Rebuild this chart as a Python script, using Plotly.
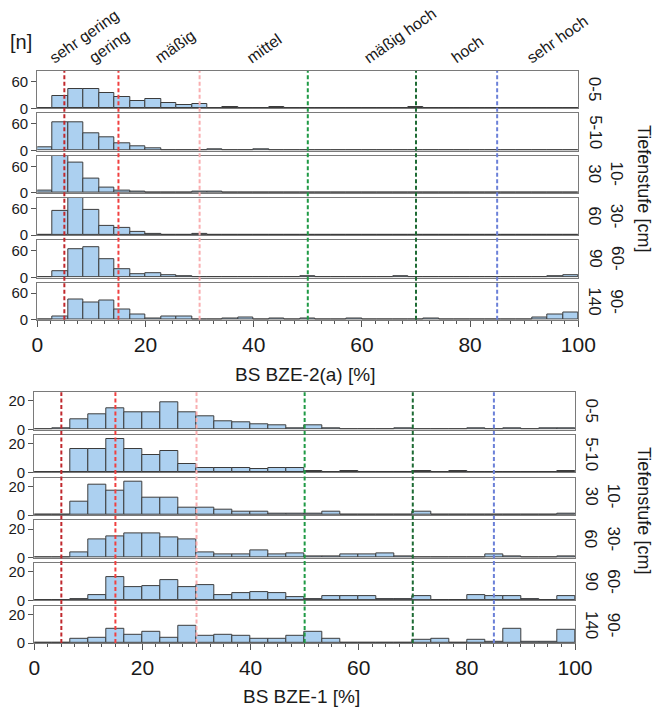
import plotly.graph_objects as go

W, H = 654, 708

# ---------------- data (counts per bin) ----------------
depth_labels = ["0-5", "5-10", "10-<br>30", "30-<br>60", "60-<br>90", "90-<br>140"]

# BS BZE-2(a): 35 bins of width 100/35 from 0 to 100
bze2_0_5    = [0, 27, 44, 43, 34, 26, 16, 21, 13, 8, 10, 1, 4, 0, 1, 4, 1, 0, 0, 0, 1, 0, 0, 0, 2, 0, 0, 0, 1, 1, 0, 1, 0, 1, 0]
bze2_5_10   = [8, 64, 64, 40, 31, 17, 10, 6, 1, 1, 0, 2, 1, 0, 2, 0, 0, 0, 1, 1, 0, 0, 0, 1, 0, 0, 0, 1, 0, 1, 1, 0, 0, 0, 0]
bze2_10_30  = [5, 84, 69, 32, 12, 6, 4, 1, 1, 0, 2, 2, 0, 1, 1, 0, 0, 1, 1, 0, 0, 0, 0, 0, 0, 1, 0, 0, 0, 0, 0, 0, 1, 0, 1]
bze2_30_60  = [0, 54, 84, 58, 20, 17, 7, 3, 0, 1, 2, 1, 0, 0, 1, 1, 0, 1, 0, 0, 1, 0, 1, 1, 0, 0, 0, 0, 1, 0, 0, 0, 1, 0, 0]
bze2_60_90  = [0, 15, 64, 68, 41, 18, 7, 9, 5, 2, 0, 1, 1, 0, 1, 0, 1, 2, 1, 0, 1, 0, 0, 2, 0, 1, 0, 0, 1, 1, 1, 1, 0, 2, 5]
bze2_90_140 = [0, 7, 46, 38, 43, 24, 13, 4, 8, 7, 1, 1, 2, 6, 1, 2, 0, 2, 0, 0, 2, 0, 0, 0, 0, 2, 0, 0, 1, 1, 0, 0, 6, 11, 16]

# BS BZE-1: 30 bins of width 100/30 from 0 to 100
bze1_0_5    = [0, 1, 7, 11, 15, 12, 12, 19, 12, 9, 6, 5, 4, 3, 1, 3, 1, 0, 0, 0, 1, 0, 0, 0, 1, 0, 1, 0, 1, 1]
bze1_5_10   = [0, 0, 16, 16, 23, 16, 12, 15, 6, 3, 3, 3, 2, 3, 3, 1, 0, 1, 0, 0, 0, 1, 0, 1, 0, 0, 0, 0, 0, 1]
bze1_10_30  = [0, 0, 9, 21, 17, 23, 12, 12, 5, 5, 4, 2, 2, 1, 1, 1, 2, 0, 0, 0, 0, 2, 0, 0, 0, 0, 0, 0, 0, 1]
bze1_30_60  = [0, 0, 4, 13, 15, 17, 17, 14, 13, 4, 2, 2, 5, 2, 3, 1, 1, 2, 2, 3, 1, 0, 0, 0, 0, 2, 1, 0, 0, 1]
bze1_60_90  = [0, 0, 1, 4, 16, 9, 10, 14, 9, 11, 4, 5, 6, 5, 2, 1, 3, 3, 3, 1, 1, 3, 0, 0, 4, 3, 3, 1, 0, 3]
bze1_90_140 = [0, 0, 3, 4, 10, 6, 8, 4, 12, 5, 6, 5, 3, 3, 5, 8, 3, 0, 0, 0, 0, 2, 3, 0, 2, 1, 10, 1, 1, 9]

bze2_series = [bze2_0_5, bze2_5_10, bze2_10_30, bze2_30_60, bze2_60_90, bze2_90_140]
bze1_series = [bze1_0_5, bze1_5_10, bze1_10_30, bze1_30_60, bze1_60_90, bze1_90_140]

class_bounds = [5, 15, 30, 50, 70, 85]
class_names = ["sehr gering", "gering", "mäßig", "mittel", "mäßig hoch", "hoch", "sehr hoch"]
x_ticks = [0, 20, 40, 60, 80, 100]

# ---------------- styling / layout ----------------
FONT = "Liberation Sans, Arial, sans-serif"
BAR_FILL = "#acd0f0"
BAR_LINE = "#3c3c3c"
FRAME = "#7a7a7a"
line_colors = ["#c0282d", "#f04040", "#f9aeb0", "#1f9a45", "#1e6b34", "#6b80d8"]

groups = [
    dict(series=bze2_series, xpx=(37.3, 578.3), top0=71.0, pitch=42.3, h=37.3,
         ymax=84, ytick=60, title="BS BZE-2(a) [%]", title_y=374, side_y=188),
    dict(series=bze1_series, xpx=(34.3, 575.0), top0=392.3, pitch=42.7, h=37.3,
         ymax=26, ytick=20, title="BS BZE-1 [%]", title_y=696, side_y=510),
]

def pyp(p):
    return 1 - p / H

fig = go.Figure()
layout = dict(
    width=W, height=H, margin=dict(l=0, r=0, t=0, b=0, autoexpand=False),
    paper_bgcolor="white", plot_bgcolor="white", showlegend=False,
    font=dict(family=FONT, color="#1a1a1a"),
    bargap=0,
)
shapes, annotations = [], []

n = 0
for g in groups:
    nb = len(g["series"][0])
    bw = 100.0 / nb
    centers = [(i + 0.5) * bw for i in range(nb)]
    xd = [g["xpx"][0] / W, g["xpx"][1] / W]
    first_n = n + 1
    for r, counts in enumerate(g["series"]):
        n += 1
        sfx = "" if n == 1 else str(n)
        top = g["top0"] + r * g["pitch"]
        bot = top + g["h"]
        fig.add_trace(go.Bar(
            x=centers, y=counts, width=bw,
            marker=dict(color=BAR_FILL, line=dict(color=BAR_LINE, width=1)),
            xaxis="x" + sfx, yaxis="y" + sfx, hoverinfo="x+y",
        ))
        last = r == len(g["series"]) - 1
        layout["xaxis" + sfx] = dict(
            domain=xd, range=[0, 100], anchor="y" + sfx, automargin=False,
            showline=True, mirror=True, linecolor=FRAME, linewidth=1.3,
            showgrid=False, zeroline=False,
            tickvals=x_ticks if last else [],
            showticklabels=last,
            ticks="outside" if last else "", ticklen=6, tickcolor="#555555", tickwidth=1.3,
            tickfont=dict(size=21, family=FONT, color="#1a1a1a"),
            minor=dict(ticks="outside", dtick=2.5, tick0=0, ticklen=3,
                       tickcolor="#555555", tickwidth=1) if last else dict(ticks=""),
        )
        layout["yaxis" + sfx] = dict(
            domain=[pyp(bot), pyp(top)], range=[0, g["ymax"]], anchor="x" + sfx,
            automargin=False,
            showline=True, mirror=True, linecolor=FRAME, linewidth=1.3,
            showgrid=False, zeroline=False,
            tickvals=[0, g["ytick"]], ticks="outside", ticklen=5,
            tickcolor="#555555", tickwidth=1.3,
            tickfont=dict(size=15, family=FONT, color="#1a1a1a"),
        )
        # depth label on the right
        annotations.append(dict(
            text=depth_labels[r], xref="paper", yref="paper",
            x=(g["xpx"][1] + 5) / W, y=pyp((top + bot) / 2),
            xanchor="left", yanchor="middle", textangle=90, showarrow=False,
            font=dict(size=17, family=FONT, color="#1a1a1a"),
        ))
    group_top = g["top0"]
    group_bot = g["top0"] + 5 * g["pitch"] + g["h"]
    xref = "x" if first_n == 1 else "x" + str(first_n)
    for b, c in zip(class_bounds, line_colors):
        shapes.append(dict(
            type="line", xref=xref, yref="paper", x0=b, x1=b,
            y0=pyp(group_bot), y1=pyp(group_top),
            line=dict(color=c, width=2, dash="4px,2.5px"), layer="above",
        ))
    # axis title
    annotations.append(dict(
        text=g["title"], xref="paper", yref="paper",
        x=(g["xpx"][0] + g["xpx"][1]) / 2 / W - 0.005, y=pyp(g["title_y"]),
        xanchor="center", yanchor="middle", showarrow=False,
        font=dict(size=19, family=FONT, color="#1a1a1a"),
    ))
    # right side title
    annotations.append(dict(
        text="Tiefenstufe [cm]", xref="paper", yref="paper",
        x=644 / W, y=pyp(g["side_y"]), xanchor="center", yanchor="middle",
        textangle=90, showarrow=False,
        font=dict(size=18, family=FONT, color="#1a1a1a"),
    ))

# class names above the top group (rotated)
label_center_px = [84, 109, 175, 264, 400, 467, 557]
x0px, x1px = groups[0]["xpx"]
for name, cpx in zip(class_names, label_center_px):
    annotations.append(dict(
        text=name, xref="x", yref="paper",
        x=(cpx - x0px) / (x1px - x0px) * 100, y=pyp(69),
        xanchor="center", yanchor="bottom", textangle=-35, showarrow=False,
        font=dict(size=16, family=FONT, color="#1a1a1a"),
    ))

annotations.append(dict(
    text="[n]", xref="paper", yref="paper", x=21 / W, y=pyp(42),
    xanchor="center", yanchor="middle", showarrow=False,
    font=dict(size=20, family=FONT, color="#1a1a1a"),
))

layout["shapes"] = shapes
layout["annotations"] = annotations
fig.update_layout(**layout)
fig.write_html(
    "out.html",
    config={"displayModeBar": False},
    post_script="document.body.style.margin='0px';document.body.style.overflow='hidden';",
)
